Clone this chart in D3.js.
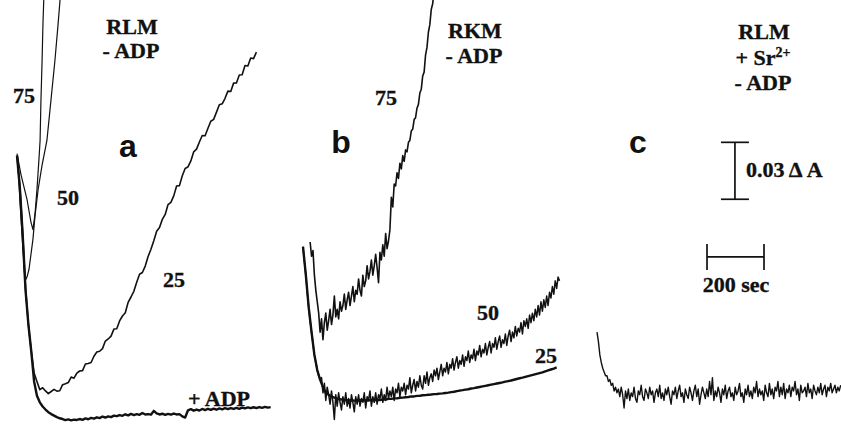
<!DOCTYPE html>
<html><head><meta charset="utf-8">
<script src="https://cdn.jsdelivr.net/npm/d3@7"></script>
<style>body{margin:0;background:#fff} svg{display:block}</style>
</head><body><svg id="chart" width="841" height="427"></svg>
<script>
// ---- DATA: time in s, absorbance change in mA units (0.001 A) ----
// Panel a (RLM, -ADP), Ca2+ 75 and 50 (explicit [t, mA] pairs)
const a75 = [[0,144],[14,133],[35,120],[49,108],[56,104],[63,112],[70,125],[77,141],[81,151],[84,172],[88,193],[91,212],[95,230]];
const a50 = [[2,143],[10,120],[20,96],[28,77],[35,79],[42,83],[49,91],[56,99],[63,111],[74,125],[88,138],[105,151],[119,172],[133,193],[144,212],[151,225],[158,235]];
// Panel a, Ca2+ 25 (sampled every 10 s from t=0)
const a25Start = 0, a25Step = 10;
const a25 = [143,127,102,73,54,40,28.5,24.0,19.7,20.7,19.0,17.6,18.7,19.8,18.9,19.1,22.3,22.8,23.4,26.3,25.7,28.4,29.5,29.7,33.2,33.5,34.0,37.3,39.5,39.9,41.3,45.3,46.4,47.9,51.6,51.8,55.9,58.5,60.2,65.7,68.5,71.5,76.3,80.5,81.4,84.8,89.8,93.7,98.1,103.1,105.1,109.4,112,117.2,118.4,121.8,127,127.2,132.4,136.2,137.1,140.2,145,146.4,150.2,153.6,153.5,157.4,161.1,162.1,165.9,169.8,170.3,173.2,177,176.8,181.2,181.3,185.5,185.6,190.5,190.2,194.4,194.1,197.5];
// Panel a, + ADP
const aADPStart = 0, aADPStep = 10;
const aADP = [143,126,101,72,54,40,24,16.5,13,10.8,9.2,7.8,6.8,6,5.2,4.6,4.2,3.6,4,3.5,3.9,3.7,4.2,3.8,4.5,4.1,4.8,4.4,5.1,4.7,5.5,5.0,5.6,5.2,6.0,5.7,6.3,5.9,6.7,6.1,6.9,6.3,6.8,6.4,7.4,6.6,6.8,6.5,8.5,7.2,6.6,7.0,6.4,6.9,6.5,7.1,6.6,6.8,5.6,5.0,8.8,9.4,8.6,9.2,8.7,9.5,8.9,9.6,9.0,9.7,9.1,9.8,9.3,9.9,9.4,10.0,9.5,10.1,9.6,10.2,9.8,10.3,9.9,10.4,10.0,10.5,10.1,10.6,10.2,10.5];
// Panel b (RKM, -ADP)
const b75Start = 25, b75Step = 5;
const b75 = [97.5,90,93,80,72,66,60,50,57,46,55,60,51,56,62,54,59,69,58,62,57,66,61,64,70,62,67,71,64,69,74,66,72,70,78,72,69,80,74,77,85,78,82,88,80,85,91,84,76,92,88,96,90,102,94,98,104,121,116,128,127,134,131,139,136,143,140,146,145,150,151,156,157,162,163,168,170,176,178,185,187,196,200,208,212,220,223,230,233];
const b50Start = 0, b50Step = 5;
const b50 = [95,87,80,71,63,56,50,44,38,34,30,27,25,
  26,18,23,14,21,17,12,19,
  13,4,17,11,18,13,9,16,12,18,
  11,15,10,17,13,8,16,12,17,11,
  15,13,18,10,16,14,19,11,16,13,
  18,12,17,15,20,13,17,14,21,15,
  19,16,21,14,20,18,23,16,21,19,
  23,17,22,20,26,18,22,25,19,24,
  21,27,22,20,27,23,29,22,26,28,
  24,30,27,31,25,29,33,27,31,29,
  34,28,33,31,36,30,34,37,31,35,
  33,38,32,37,35,40,34,38,36,41,
  35,40,38,43,37,41,39,44,38,42,
  45,39,44,42,47,41,45,48,42,46,
  44,49,43,48,51,45,50,47,53,48,
  52,50,55,49,56,53,57,52,59,55,
  60,56,62,58,64,59,66,61,67,63,
  69,64,71,68,74,70,77,73,79,77];
const b25Start = 0, b25Step = 10;
const b25 = [95,80,63,50,38,30,25,21,18,17,16,15.5,15,14.6,14.4,14.2,14,14.1,13.9,14,14.1,13.9,14.1,14,14.2,14.1,14.3,14.2,14.5,14.5,14.8,14.8,15.1,15.1,15.4,15.5,15.7,15.8,16.1,16.1,16.4,16.5,16.7,16.8,17,17.1,17.3,17.4,17.6,17.7,17.9,18.1,18.4,18.6,18.9,19.2,19.4,19.7,19.9,20.3,20.5,20.8,21.1,21.4,21.7,22,22.3,22.6,22.9,23.2,23.5,23.9,24.2,24.5,24.9,25.3,25.7,26,26.4,26.8,27.2,27.6,28,28.4,28.8,29.3,29.8,30.3,30.8,31.4];
// Panel c (RLM + Sr2+, -ADP)
const cStart = 0, cStep = 5;
const cTrace = [50,45,38,34,31,29,27,27,24,25,22,23,19,21,18,20,
  16,21,17,10,19,15,20,14,18,16,
  21,15,13,19,17,22,16,14,20,18,
  15,21,17,19,13,18,20,16,22,15,
  18,14,20,17,21,16,12,19,17,21,
  15,19,22,16,18,13,20,17,15,21,
  18,14,19,22,16,20,12,17,21,18,
  15,20,16,24,17,26,14,19,16,21,
  18,13,20,17,22,15,19,21,16,18,
  14,21,17,19,23,16,18,13,20,17,
  22,16,19,15,21,18,24,16,20,17,
  19,14,22,18,16,23,17,20,15,21,
  19,24,16,21,17,23,15,20,18,22,
  16,21,19,24,17,20,14,22,18,19,
  21,16,23,18,20,15,22,19,17,21,
  18,23,17,20,22,16,21,19,23,18,
  20,22,18,21,19,22];
// Scale bars
const scaleBarA = 30;        // 0.03 ΔA in mA
const scaleBarABase = 120;   // mA
const scaleBarAT = 484;      // s (panel c time)
const scaleBarT = 200;       // s
const scaleBarTStart = 386;  // s
const scaleBarTLevel = 89.6; // mA

// ---- SCALES ----
const svg = d3.select("#chart");
const y = d3.scaleLinear().domain([0,225]).range([427,0]);
const xa = d3.scaleLinear().domain([0,900]).range([17,273.5]);
const xb = d3.scaleLinear().domain([0,900]).range([303,559.5]);
const xc = d3.scaleLinear().domain([0,900]).range([597,853.5]);

const sampled = (start, step, vals) => vals.map((v,i)=>[start+i*step, v]);
function trace(xs, pts, w){
  svg.append("path").datum(pts)
    .attr("fill","none").attr("stroke","#111").attr("stroke-width",w)
    .attr("stroke-linejoin","round")
    .attr("d", d3.line().x(d=>xs(d[0])).y(d=>y(d[1])));
}
trace(xa, a75, 1.2);
trace(xa, a50, 1.2);
trace(xa, sampled(a25Start,a25Step,a25), 1.6);
trace(xa, sampled(aADPStart,aADPStep,aADP), 2.4);
trace(xb, sampled(b75Start,b75Step,b75), 1.6);
trace(xb, sampled(b50Start,b50Step,b50), 1.5);
trace(xb, sampled(b25Start,b25Step,b25), 2.4);
trace(xc, sampled(cStart,cStep,cTrace), 1.4);

// scale bars
const vx = xc(scaleBarAT), vy0 = y(scaleBarABase), vy1 = y(scaleBarABase+scaleBarA);
const bar = svg.append("g").attr("stroke","#111").attr("stroke-width",1.7);
bar.append("line").attr("x1",vx).attr("x2",vx).attr("y1",vy0).attr("y2",vy1);
bar.append("line").attr("x1",vx-14).attr("x2",vx+14).attr("y1",vy0).attr("y2",vy0);
bar.append("line").attr("x1",vx-14).attr("x2",vx+14).attr("y1",vy1).attr("y2",vy1);
const hx0 = xc(scaleBarTStart), hx1 = xc(scaleBarTStart+scaleBarT), hy = y(scaleBarTLevel);
bar.append("line").attr("x1",hx0).attr("x2",hx1).attr("y1",hy).attr("y2",hy);
bar.append("line").attr("x1",hx0).attr("x2",hx0).attr("y1",hy-13).attr("y2",hy+13);
bar.append("line").attr("x1",hx1).attr("x2",hx1).attr("y1",hy-13).attr("y2",hy+13);

// ---- TEXT ----
function serif(x, yy, txt, anchor){
  return svg.append("text").attr("x",x).attr("y",yy).attr("text-anchor",anchor||"middle")
    .attr("font-family","'Liberation Serif','Times New Roman',serif").attr("font-weight","bold")
    .attr("font-size",22).attr("fill","#111")
    .attr("stroke","#111").attr("stroke-width",0.35).text(txt);
}
function sans(x, yy, txt){
  svg.append("text").attr("x",x).attr("y",yy).attr("text-anchor","middle")
    .attr("font-family","'Liberation Sans',Arial,sans-serif").attr("font-weight","bold")
    .attr("font-size",32).attr("fill","#111").text(txt);
}
serif(132,34,"RLM"); serif(131,58,"- ADP");
serif(24,103,"75"); serif(68,205,"50"); serif(174,287,"25");
serif(219,406,"+ ADP");
serif(475,38,"RKM"); serif(474,63,"- ADP");
serif(386,105,"75"); serif(488,320,"50"); serif(546,363,"25");
serif(764,39,"RLM");
const sr = serif(763,65,"+ Sr");
sr.append("tspan").attr("dy",-8).attr("font-size",14).text("2+");
serif(763,90,"- ADP");
serif(746,177,"0.03 Δ A","start");
serif(736,292,"200 sec");
sans(128,157,"a"); sans(341,153,"b"); sans(638,153,"c");
</script></body></html>
